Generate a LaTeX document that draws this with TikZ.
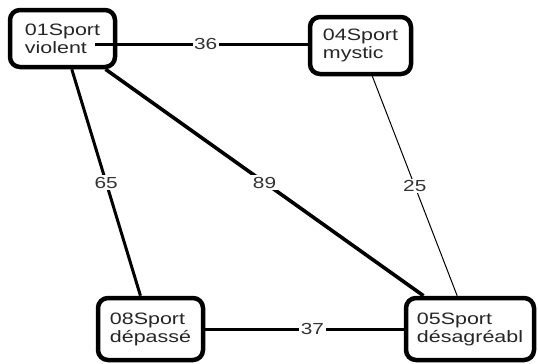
\documentclass[tikz,border=0pt]{standalone}
\usepackage{fontspec}
\setmainfont[FakeStretch=1.3]{Liberation Sans}
\begin{document}
\begin{tikzpicture}[x=1pt,y=-1pt,
  sportbox/.style={draw=black,line width=4.5pt,rounded corners=10pt,fill=white,
    align=left,inner sep=0pt,font=\fontsize{16.5}{18}\selectfont,text=black!85},
  wlabel/.style={fill=white,inner sep=1.5pt,font=\fontsize{16}{18}\selectfont,text=black!80},
  thickedge/.style={line width=3pt},
  heavyedge/.style={line width=3.6pt},
  thinedge/.style={line width=1pt}]
\useasboundingbox (0,0) rectangle (538,364);
\node[sportbox,minimum width=105pt,minimum height=57pt] (n01) at (62.5,38.5) {01Sport\\violent};
\node[sportbox,minimum width=101pt,minimum height=57pt] (n04) at (360.5,45.5) {04Sport\\mystic};
\node[sportbox,minimum width=105pt,minimum height=62pt] (n08) at (150.5,329) {08Sport\\dépassé};
\node[sportbox,minimum width=128pt,minimum height=62pt] (n05) at (470,329) {05Sport\\désagréabl};
\coordinate (s36) at (95,44);
\draw[thickedge] (s36) -- node[wlabel,pos=0.52] {36} (n04.west |- s36);
\draw[thickedge] (n01) -- node[wlabel] {65} (n08);
\draw[heavyedge] (n01) -- node[wlabel] {89} (n05);
\draw[thinedge] (n04) -- node[wlabel] {25} (n05);
\draw[thickedge] (n08) -- node[wlabel,pos=0.54] {37} (n05);
\end{tikzpicture}
\end{document}
